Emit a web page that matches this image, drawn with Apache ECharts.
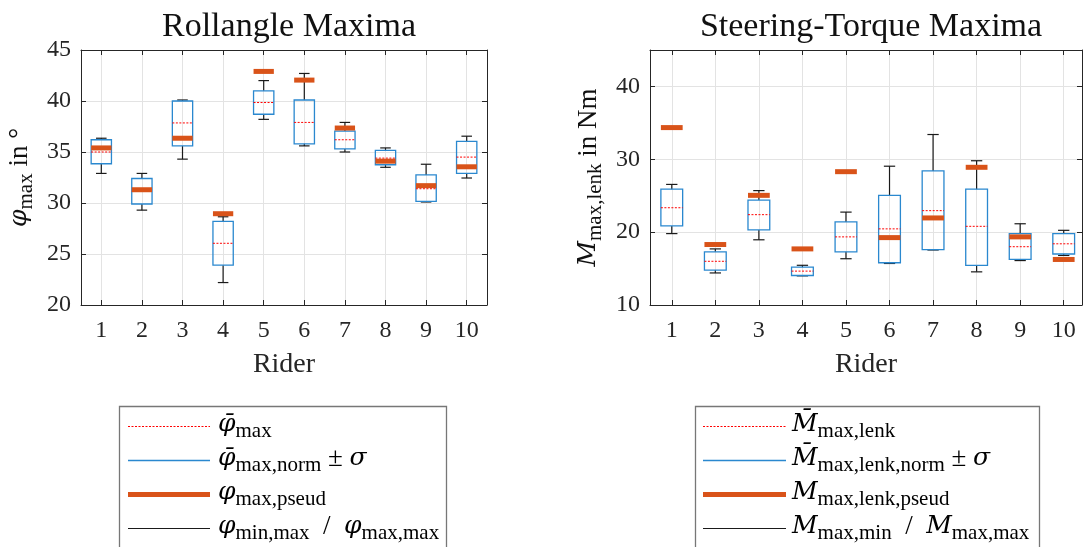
<!DOCTYPE html>
<html><head><meta charset="utf-8">
<script src="https://cdn.jsdelivr.net/npm/echarts@6/dist/echarts.min.js"></script>
<style>html,body{margin:0;padding:0;background:#fff}#c{width:1087px;height:547px}</style>
</head><body><div id="c"></div>
<script>
// ---------- data ----------
const riders = [1, 2, 3, 4, 5, 6, 7, 8, 9, 10];
const rollTicks = [20, 25, 30, 35, 40, 45];
const torqueTicks = [10, 20, 30, 40];

const rollWhiskerLow  = [32.9, 29.3, 34.3, 22.2, 38.2, 35.6, 35.0, 33.5, 30.1, 32.45];
const rollBoxLow      = [33.85, 29.9, 35.6, 23.9, 38.7, 35.8, 35.3, 33.75, 30.15, 32.9];
const rollBoxHigh     = [36.2, 32.4, 40.0, 28.2, 41.0, 40.1, 37.05, 35.15, 32.75, 36.05];
const rollWhiskerHigh = [36.35, 32.9, 40.1, 28.65, 42.0, 42.7, 37.9, 35.4, 33.8, 36.55];
const rollMean        = [35.0, 31.15, 37.85, 26.05, 39.85, 37.9, 36.2, 34.4, 31.4, 34.5];
const rollPseud       = [35.4, 31.3, 36.35, 28.95, 42.9, 42.05, 37.35, 34.1, 31.7, 33.55];

const torqueWhiskerLow  = [19.8, 14.4, 18.95, 14.0, 16.35, 15.7, 17.55, 14.55, 16.1, 16.8];
const torqueBoxLow      = [20.85, 14.8, 20.3, 14.05, 17.3, 15.8, 17.6, 15.45, 16.25, 17.0];
const torqueBoxHigh     = [25.9, 17.3, 24.4, 15.2, 21.4, 25.05, 28.4, 25.9, 19.8, 19.8];
const torqueWhiskerHigh = [26.55, 17.7, 25.7, 15.45, 22.75, 29.05, 33.4, 29.8, 21.15, 20.25];
const torqueMean        = [23.35, 16.0, 22.4, 14.65, 19.35, 20.45, 22.95, 20.8, 18.0, 18.4];
const torquePseud       = [34.35, 18.3, 25.05, 17.7, 28.3, 19.25, 21.95, 28.9, 19.35, 16.25];

// ---------- style ----------
const SERIF = '"Liberation Serif", "DejaVu Serif", serif';
const MATH = '"DejaVu Serif", "Liberation Serif", serif';
const AX = '#262626';
const GRID = '#e3e3e3';
const BLUE = '#2a88cf';
const RED = '#ff0000';
const ORANGE = '#D95319';
const BLACK = '#1a1a1a';
const BOX_HALF = 0.25;
const CAP_HALF = 0.13;

const chart = echarts.init(document.getElementById('c'), null, {renderer: 'canvas'});

const rich = {
  v: {fontFamily: MATH, fontStyle: 'italic', fontSize: 25, color: '#111'},
  s: {fontFamily: SERIF, fontSize: 21, color: '#111', padding: [14, 0, 0, 0]},
  t: {fontFamily: SERIF, fontSize: 27, color: '#111'}
};

function xAxisFor(gridIndex, max, position, main) {
  return {
    type: 'value', gridIndex, position, min: 0.5, max,
    axisLine: {show: true, onZero: false, lineStyle: {color: AX, width: 1}},
    axisTick: {show: true, inside: true, length: 5, customValues: riders, lineStyle: {color: AX}},
    axisLabel: {show: main, customValues: riders, margin: 14, fontFamily: SERIF, fontSize: 24, color: AX},
    splitLine: {show: main, lineStyle: {color: GRID, width: 1}},
    name: main ? 'Rider' : '', nameLocation: 'middle', nameGap: 46,
    nameTextStyle: {fontFamily: SERIF, fontSize: 28, color: AX}
  };
}
function yAxisFor(gridIndex, min, max, ticks, position, main, name) {
  return {
    type: 'value', gridIndex, position, min, max,
    axisLine: {show: true, onZero: false, lineStyle: {color: AX, width: 1}},
    axisTick: {show: true, inside: true, length: 5, customValues: ticks, lineStyle: {color: AX}},
    axisLabel: {show: main, customValues: ticks, margin: 10, fontFamily: SERIF, fontSize: 24, color: AX},
    splitLine: {show: main, lineStyle: {color: GRID, width: 1}},
    name: main ? name : '', nameLocation: 'middle', nameGap: 44, nameRotate: 90,
    nameTextStyle: {fontFamily: SERIF, fontSize: 27, color: '#111', rich}
  };
}

function boxSeries(ax, low, high) {
  return {
    type: 'custom', xAxisIndex: ax, yAxisIndex: ax, z: 3,
    data: riders.map((r, i) => [r, low[i], high[i]]),
    encode: {x: 0, y: [1, 2]},
    renderItem(params, api) {
      const x = api.value(0);
      const p1 = api.coord([x - BOX_HALF, api.value(2)]);
      const p2 = api.coord([x + BOX_HALF, api.value(1)]);
      return {type: 'rect', shape: {x: p1[0], y: p1[1], width: p2[0] - p1[0], height: p2[1] - p1[1]},
        style: {fill: 'none', stroke: BLUE, lineWidth: 1.3}};
    }
  };
}
function whiskerSeries(ax, wLow, bLow, bHigh, wHigh) {
  return {
    type: 'custom', xAxisIndex: ax, yAxisIndex: ax, z: 2,
    data: riders.map((r, i) => [r, wLow[i], bLow[i], bHigh[i], wHigh[i]]),
    encode: {x: 0, y: [1, 4]},
    renderItem(params, api) {
      const x = api.value(0);
      const st = {stroke: BLACK, lineWidth: 1.2};
      const a = api.coord([x, api.value(1)]), b = api.coord([x, api.value(2)]);
      const c = api.coord([x, api.value(3)]), d = api.coord([x, api.value(4)]);
      const cl = api.coord([x - CAP_HALF, api.value(1)]), cr = api.coord([x + CAP_HALF, api.value(1)]);
      const tl = api.coord([x - CAP_HALF, api.value(4)]), tr = api.coord([x + CAP_HALF, api.value(4)]);
      return {type: 'group', children: [
        {type: 'line', shape: {x1: a[0], y1: a[1], x2: b[0], y2: b[1]}, style: st},
        {type: 'line', shape: {x1: c[0], y1: c[1], x2: d[0], y2: d[1]}, style: st},
        {type: 'line', shape: {x1: cl[0], y1: cl[1], x2: cr[0], y2: cr[1]}, style: st},
        {type: 'line', shape: {x1: tl[0], y1: tl[1], x2: tr[0], y2: tr[1]}, style: st}
      ]};
    }
  };
}
function barSeries(ax, vals, color, width, dash, z) {
  return {
    type: 'custom', xAxisIndex: ax, yAxisIndex: ax, z,
    data: riders.map((r, i) => [r, vals[i]]),
    encode: {x: 0, y: 1},
    renderItem(params, api) {
      const x = api.value(0);
      const l = api.coord([x - BOX_HALF, api.value(1)]), r = api.coord([x + BOX_HALF, api.value(1)]);
      return {type: 'line', shape: {x1: l[0], y1: l[1], x2: r[0], y2: r[1]},
        style: {stroke: color, lineWidth: width, lineDash: dash}};
    }
  };
}

// legend built from graphic elements
function legend(x0, lineX1, lineX2, textX, labels) {
  const rows = [426.5, 460.5, 494.5, 528.5];
  const styles = [
    {stroke: RED, lineWidth: 1, lineDash: [2, 1.5]},
    {stroke: BLUE, lineWidth: 1.3},
    {stroke: ORANGE, lineWidth: 5},
    {stroke: BLACK, lineWidth: 1.2}
  ];
  const els = [{type: 'rect', shape: {x: x0[0], y: 406.5, width: x0[1] - x0[0], height: 170},
    style: {fill: '#fff', stroke: '#777', lineWidth: 1.3}, z: 10}];
  rows.forEach((y, i) => {
    els.push({type: 'line', shape: {x1: lineX1, y1: y, x2: lineX2, y2: y}, style: styles[i], z: 11});
    els.push({type: 'text', x: textX, y: y - 2, z: 11,
      style: {text: labels[i], rich, verticalAlign: 'middle', align: 'left', fontFamily: SERIF}});
  });
  return els;
}

const option = {
  backgroundColor: '#fff',
  animation: false,
  title: [
    {text: 'Rollangle Maxima', left: 284, top: 5, textAlign: 'center',
      textStyle: {fontFamily: SERIF, fontSize: 34, fontWeight: 'normal', color: '#111'}},
    {text: 'Steering-Torque Maxima', left: 866, top: 5, textAlign: 'center',
      textStyle: {fontFamily: SERIF, fontSize: 34, fontWeight: 'normal', color: '#111'}}
  ],
  grid: [
    {left: 81, top: 50, width: 406, height: 255, containLabel: false},
    {left: 650, top: 50, width: 432, height: 255, containLabel: false}
  ],
  xAxis: [
    xAxisFor(0, 10.5, 'bottom', true),
    xAxisFor(1, 10.42, 'bottom', true),
    xAxisFor(0, 10.5, 'top', false),
    xAxisFor(1, 10.42, 'top', false)
  ],
  yAxis: [
    yAxisFor(0, 20, 45, rollTicks, 'left', true, '{v|φ}{s|max}{t| in °}'),
    yAxisFor(1, 10, 45, torqueTicks, 'left', true, '{v|M}{s|max,lenk}{t| in Nm}'),
    yAxisFor(0, 20, 45, rollTicks, 'right', false, ''),
    yAxisFor(1, 10, 45, torqueTicks, 'right', false, '')
  ],
  series: [
    whiskerSeries(0, rollWhiskerLow, rollBoxLow, rollBoxHigh, rollWhiskerHigh),
    boxSeries(0, rollBoxLow, rollBoxHigh),
    barSeries(0, rollMean, RED, 1, [2, 1.5], 4),
    barSeries(0, rollPseud, ORANGE, 5, null, 5),
    whiskerSeries(1, torqueWhiskerLow, torqueBoxLow, torqueBoxHigh, torqueWhiskerHigh),
    boxSeries(1, torqueBoxLow, torqueBoxHigh),
    barSeries(1, torqueMean, RED, 1, [2, 1.5], 4),
    barSeries(1, torquePseud, ORANGE, 5, null, 5)
  ],
  graphic: [].concat(
    legend([119.5, 446.5], 128, 210, 218, [
      '{v|φ̄}{s|max}',
      '{v|φ̄}{s|max,norm}{t| ± }{v|σ}',
      '{v|φ}{s|max,pseud}',
      '{v|φ}{s|min,max}{t|  /  }{v|φ}{s|max,max}'
    ]),
    legend([695.5, 1039.5], 703, 786, 792, [
      '{v|M̄}{s|max,lenk}',
      '{v|M̄}{s|max,lenk,norm}{t| ± }{v|σ}',
      '{v|M}{s|max,lenk,pseud}',
      '{v|M}{s|max,min}{t|  /  }{v|M}{s|max,max}'
    ])
  )
};
chart.setOption(option);
</script>
</body></html>
